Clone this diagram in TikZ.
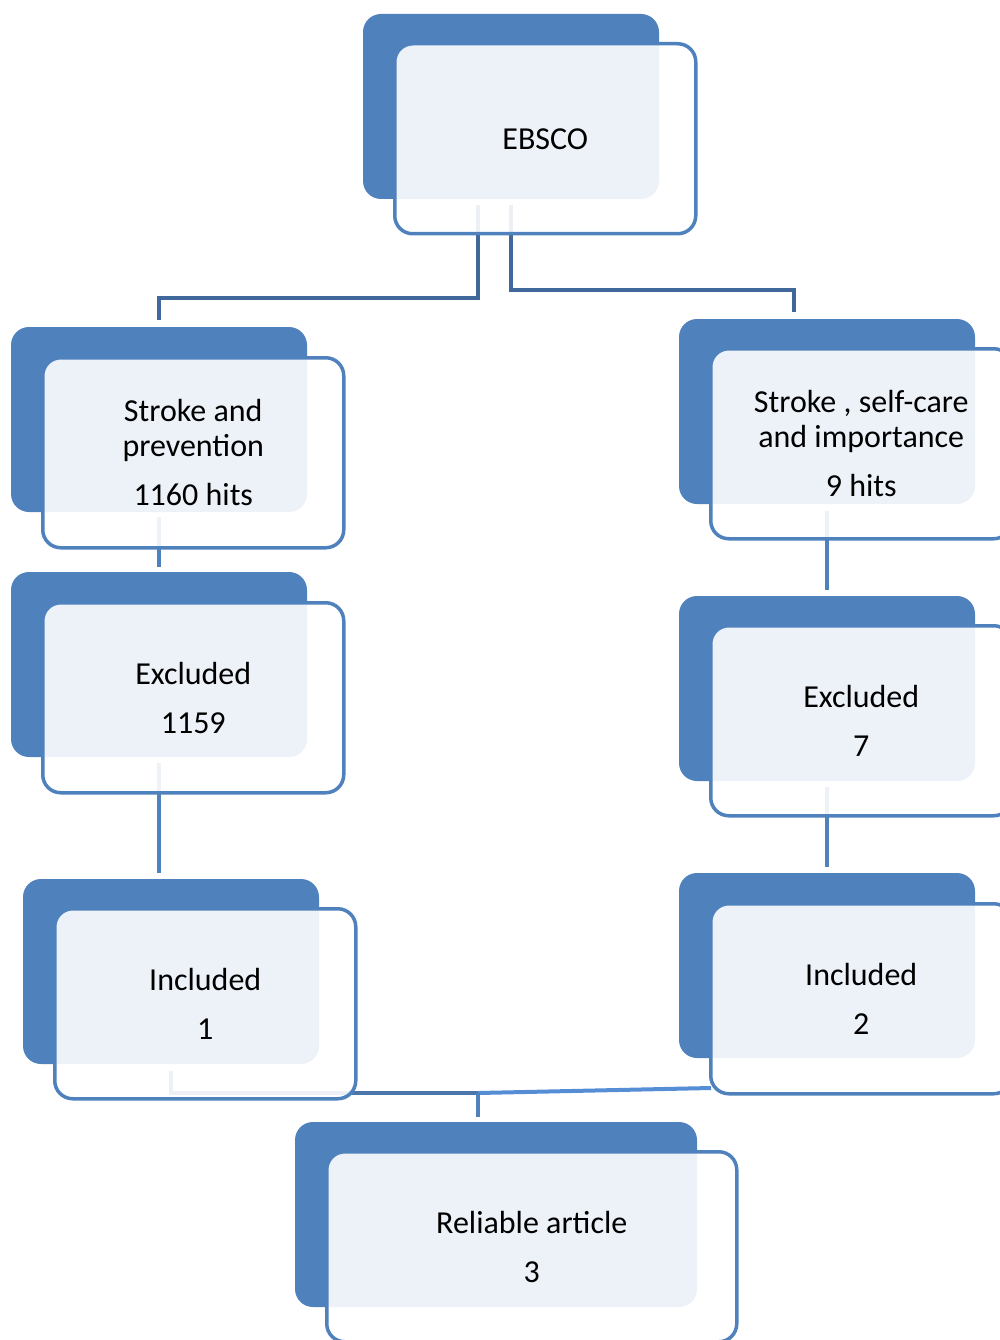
\documentclass[tikz,border=0pt]{standalone}
\usepackage{fontspec}
\setmainfont{Carlito}
\usetikzlibrary{positioning,calc}
\definecolor{boxblue}{RGB}{79,129,189}
\definecolor{linkdark}{RGB}{65,104,154}
\definecolor{linkmid}{RGB}{74,118,172}
\definecolor{linklight}{RGB}{85,142,213}
\tikzset{
    backbox/.style={
        rectangle,
        fill=boxblue,
        rounded corners=18pt,
        minimum width=296pt,
        minimum height=185pt,
        inner sep=0pt,
        outer sep=0pt,
        anchor=north west,
    },
    frontbox/.style={
        rectangle,
        draw=boxblue,
        line width=3.5pt,
        fill=white,
        fill opacity=0.9,
        text opacity=1,
        rounded corners=18pt,
        minimum width=301pt,
        minimum height=190pt,
        align=center,
        anchor=north west,
        font=\fontsize{32}{35}\selectfont,
    },
    link/.style={
        draw=boxblue,
        line width=4.5pt,
    },
    toplink/.style={
        link,
        draw=linkdark,
        line width=4pt,
    },
}

\begin{document}
\begin{tikzpicture}[x=1pt,y=-1pt]
        \useasboundingbox (0,0) rectangle (1000,1340);
        \clip (0,0) rectangle (1000,1340);
        % back boxes
        \node[backbox] (ebscoB) at (363,14) {};
        \node[backbox] (strokeB) at (11,327) {};
        \node[backbox] (exclLB) at (11,572) {};
        \node[backbox] (inclLB) at (23,879) {};
        \node[backbox] (careB) at (679,319) {};
        \node[backbox] (exclRB) at (679,596) {};
        \node[backbox] (inclRB) at (679,873) {};
        \node[backbox,minimum width=402pt] (reliableB) at (295,1122) {};

        \coordinate (forkL) at (159,298);
        \coordinate (forkR) at (794,290);
        \coordinate (join) at (478,1093);
        \coordinate (inclRout) at (711,1088);

        \draw[toplink] ([xshift=-33pt,yshift=-6pt]ebscoB.south) |- (forkL) -| ([yshift=7pt]strokeB.north);
        \draw[toplink] ([yshift=-6pt]ebscoB.south) |- (forkR) -| ([xshift=-33pt,yshift=7pt]careB.north);
        \draw[link] ([yshift=-5pt]strokeB.south) -- ([yshift=5pt]exclLB.north);
        \draw[link] ([yshift=-6pt]exclLB.south) -- ([yshift=6pt]exclLB.south |- inclLB.north);
        \draw[link] ([yshift=-7pt]careB.south) -- ([yshift=6pt]exclRB.north);
        \draw[link] ([yshift=-6pt]exclRB.south) -- ([yshift=6pt]inclRB.north);
        \draw[link,draw=linkmid,line width=4pt] ([yshift=-7pt]inclLB.south) |- (join);
        \draw[link,draw=linklight,line width=4pt] (inclRout) -- (join);
        \draw[link,line width=4pt] (join) -- ([xshift=-18pt,yshift=5pt]reliableB.north);

        % front boxes
        \node[frontbox] (ebsco) at ([shift={(30,28)}]ebscoB.north west) {EBSCO};
        \node[frontbox] (stroke) at ([shift={(30,29)}]strokeB.north west) {Stroke and\\prevention\\[14pt]1160 hits};
        \node[frontbox] (exclL) at ([shift={(30,29)}]exclLB.north west) {Excluded\\[14pt]1159};
        \node[frontbox] (inclL) at ([shift={(30,28)}]inclLB.north west) {Included\\[14pt]1};
        \node[frontbox] (care) at ([shift={(30,28)}]careB.north west) {Stroke , self-care\\and importance\\[14pt]9 hits};
        \node[frontbox] (exclR) at ([shift={(30,28)}]exclRB.north west) {Excluded\\[14pt]7};
        \node[frontbox] (inclR) at ([shift={(30,29)}]inclRB.north west) {Included\\[14pt]2};
        \node[frontbox,minimum width=410pt] (reliable) at ([shift={(30,28)}]reliableB.north west) {Reliable article\\[14pt]3};
    \end{tikzpicture}
\end{document}
